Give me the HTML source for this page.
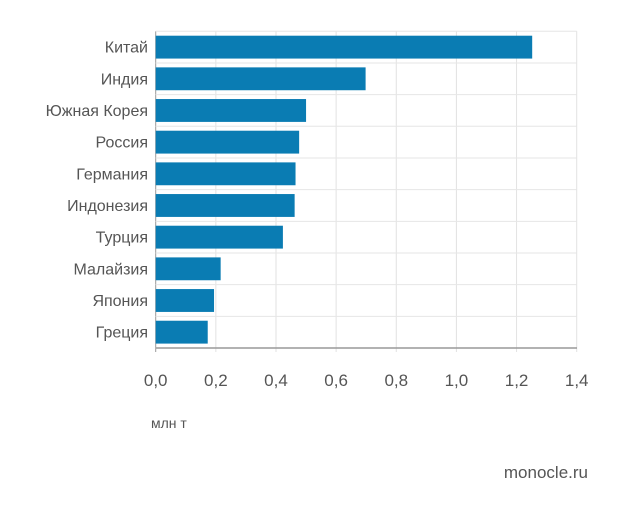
<!DOCTYPE html>
<html><head><meta charset="utf-8"><style>
body{margin:0;background:#fff;}
svg text{font-family:"Liberation Sans",sans-serif;fill:#555;}
</style></head><body>
<svg id="chart" width="620" height="511" xmlns="http://www.w3.org/2000/svg">
<g id="grid"></g>
<g id="bars"></g>
<g id="ylabels"></g>
<g id="xlabels"></g>
<line x1="155.7" y1="348" x2="577" y2="348" stroke="#999" stroke-width="1.5"/>
<text x="151" y="428" font-size="14">млн т</text>
<text x="588" y="478" font-size="17" text-anchor="end">monocle.ru</text>
</svg>
<script>
const categories=["Китай","Индия","Южная Корея","Россия","Германия","Индонезия","Турция","Малайзия","Япония","Греция"];
const values=[1.252,0.698,0.500,0.477,0.465,0.462,0.423,0.216,0.194,0.173];
const tickValues=[0,0.2,0.4,0.6,0.8,1.0,1.2,1.4];
const tickLabels=["0,0","0,2","0,4","0,6","0,8","1,0","1,2","1,4"];
const NS="http://www.w3.org/2000/svg";
const x0=155.7,x1=576.7,plotTop=31.3,plotBottom=348,xmax=1.4;
const rowH=(plotBottom-plotTop)/categories.length;
function xs(v){return x0+(x1-x0)*v/xmax;}
function mk(tag,attrs,parent){const e=document.createElementNS(NS,tag);for(const k in attrs)e.setAttribute(k,attrs[k]);parent.appendChild(e);return e;}
const grid=document.getElementById('grid'),bars=document.getElementById('bars'),yl=document.getElementById('ylabels'),xl=document.getElementById('xlabels');
tickValues.forEach((t,i)=>{
  const l=mk('line',{x1:xs(t),x2:xs(t),y1:plotTop,y2:plotBottom+4,stroke:i===0?'#999':'#e2e2e2','stroke-width':1},grid);
  
  
  const tx=mk('text',{x:xs(t),y:386,'font-size':17,'text-anchor':'middle'},xl);
  tx.textContent=tickLabels[i];
  
  
});
for(let i=0;i<=categories.length;i++){
  const y=plotTop+i*rowH;
  const l=mk('line',{x1:x0,x2:x1,y1:y,y2:y,stroke:'#e6e6e6','stroke-width':1},grid);
  
  
}
categories.forEach((c,i)=>{
  const y=plotTop+i*rowH;
  const r=mk('rect',{x:x0,y:y+4.4,width:xs(values[i])-x0,height:rowH-8.8,fill:'#0a7cb3'},bars);
  
  
  const t=mk('text',{x:148,y:y+rowH/2+5.5,'font-size':16,'text-anchor':'end'},yl);
  t.textContent=c;
  
  
});
</script>
</body></html>
